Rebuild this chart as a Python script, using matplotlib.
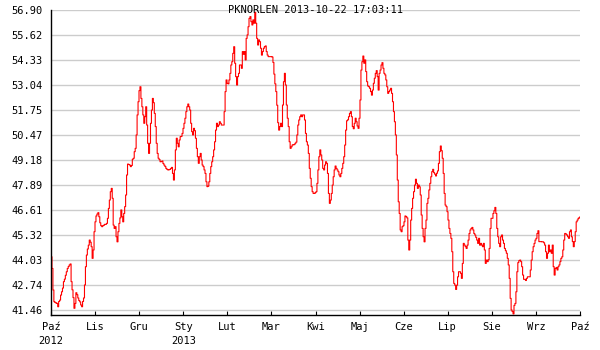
import numpy as np
import matplotlib
matplotlib.use("Agg")
import matplotlib.pyplot as plt

title = "PKNORLEN 2013-10-22 17:03:11"
y_ticks = [41.46, 42.74, 44.03, 45.32, 46.61, 47.89, 49.18, 50.47, 51.75, 53.04, 54.33, 55.62, 56.90]
month_labels = ["Paź\n2012", "Lis", "Gru", "Sty\n2013", "Lut", "Mar", "Kwi", "Maj",
                "Cze", "Lip", "Sie", "Wrz", "Paź"]

seg_oct_nov = [44.20, 43.60, 42.49, 41.89, 41.85, 41.82, 41.80, 41.63, 41.90, 41.97, 42.23, 42.40,
               42.59, 42.92, 43.05, 43.25, 43.43, 43.60, 43.70, 43.78, 43.83, 42.92, 42.50, 42.10,
               41.55, 41.80, 42.35, 42.25, 42.08, 41.95, 41.88, 41.72, 41.63, 41.90, 42.08, 42.75,
               43.69, 44.29, 44.60, 44.80, 45.06, 44.95, 44.72, 44.12, 44.55, 45.49, 46.00, 46.30,
               46.40, 46.47, 46.26, 45.95, 45.80, 45.75, 45.80, 45.83, 45.87, 45.87, 45.92, 46.18,
               46.69, 47.12, 47.55, 47.72, 47.21, 45.83, 45.66, 45.75, 45.23, 44.97, 45.49, 45.92,
               46.20, 46.61, 46.26, 46.00, 46.43, 46.78, 47.38, 48.41, 48.97, 48.95, 48.92, 48.84,
               48.90, 49.22]
seg_dec_jan = [49.27, 49.61, 49.78, 50.47, 51.50, 52.18, 52.75, 52.95, 52.35, 51.92, 51.50, 51.07,
               51.41, 51.92, 50.98, 50.04, 49.52, 50.04, 51.07, 51.75, 52.35, 52.13, 51.58, 50.90,
               50.04, 49.52, 49.27, 49.20, 49.09, 49.10, 49.13, 49.00, 48.92, 48.85, 48.75, 48.70,
               48.67, 48.68, 48.70, 48.75, 48.80, 48.49, 48.15, 48.67, 49.70, 50.30, 50.04, 49.86,
               50.21, 50.38, 50.40, 50.55, 50.81, 51.07, 51.33, 51.67, 51.92, 52.06, 51.92, 51.75,
               51.07, 50.64, 50.47, 50.81, 50.69, 50.30, 49.78, 49.35, 49.01, 49.35, 49.52, 49.18,
               48.92, 48.84, 48.67, 48.49, 48.06, 47.81, 47.84, 48.06, 48.49, 48.84, 49.09, 49.35,
               49.70, 50.12, 50.72, 51.07, 50.90, 50.98, 51.15, 51.07, 50.98, 50.98]
seg_feb_mar = [50.98, 51.67, 52.70, 53.30, 53.13, 53.10, 53.30, 53.64, 54.07, 54.24, 54.67, 55.01,
               54.16, 53.47, 53.04, 53.47, 53.64, 54.07, 54.07, 53.90, 54.76, 54.62, 54.76, 54.33,
               55.44, 55.62, 56.04, 56.47, 56.56, 56.30, 56.13, 56.39, 56.22, 56.78, 56.22, 55.44,
               55.10, 55.36, 55.27, 54.93, 54.58, 54.76, 54.93, 55.01, 55.05, 54.76, 54.58, 54.50,
               54.50, 54.50, 54.50, 54.48, 54.20, 53.60, 53.10, 52.70, 52.00, 51.10, 50.72, 50.90,
               51.07, 50.90, 52.01, 53.21, 53.64, 53.04, 52.01, 51.33, 50.90, 50.12, 49.78, 49.86,
               49.95, 49.97, 49.97, 50.04, 50.10, 50.47, 50.98, 51.24, 51.41, 51.50, 51.41, 51.50,
               51.50, 51.24, 50.55, 50.12, 49.95, 49.52, 48.75, 48.24, 47.81, 47.55]
seg_apr_may = [47.46, 47.46, 47.50, 47.55, 47.98, 48.67, 49.35, 49.70, 49.44, 49.18, 48.75, 48.67,
               48.92, 49.09, 49.01, 48.49, 47.46, 46.95, 47.12, 47.46, 47.89, 48.32, 48.67, 48.87,
               48.75, 48.67, 48.58, 48.41, 48.32, 48.49, 48.75, 49.01, 49.35, 49.95, 50.72, 51.20,
               51.25, 51.41, 51.58, 51.67, 51.41, 50.90, 50.79, 51.07, 51.33, 51.15, 50.93, 50.81,
               51.33, 52.27, 53.81, 54.24, 54.53, 54.16, 54.33, 53.73, 53.21, 52.99, 52.95, 52.87,
               52.70, 52.52, 52.78, 53.13, 53.39, 53.64, 53.78, 53.47, 52.78, 53.64, 53.81, 54.07,
               54.19, 53.90, 53.64, 53.56, 53.30, 52.95, 52.61, 52.70, 52.78, 52.87, 52.61, 52.18,
               51.67, 51.15, 50.47, 49.44, 48.15, 47.03]
seg_jun_jul = [46.43, 45.58, 45.49, 45.75, 45.80, 46.00, 46.30, 46.26, 46.20, 45.06, 44.55, 45.06,
               46.09, 46.69, 47.21, 47.55, 47.89, 48.19, 47.98, 47.72, 47.89, 47.80, 47.38, 46.35,
               45.66, 45.23, 44.97, 45.66, 46.09, 46.95, 47.21, 47.64, 47.98, 48.32, 48.58, 48.70,
               48.53, 48.45, 48.36, 48.50, 48.62, 49.01, 49.61, 49.90, 49.66, 49.27, 48.49, 47.46,
               46.86, 46.78, 46.52, 46.09, 45.66, 45.40, 45.15, 44.46, 43.43, 42.83, 42.74, 42.52,
               42.74, 43.17, 43.43, 43.43, 43.35, 43.09, 43.86, 44.89, 44.80, 44.72, 44.63, 44.80,
               45.06, 45.40, 45.58, 45.66, 45.71, 45.58, 45.40, 45.32, 45.20, 45.06, 44.89, 45.15,
               44.80, 44.89, 44.80, 44.72, 44.89, 44.55]
seg_aug_oct = [43.86, 44.03, 43.95, 44.05, 44.63, 45.66, 46.18, 46.18, 46.43, 46.57, 46.74, 46.43,
               45.66, 45.23, 44.89, 44.72, 45.23, 45.32, 45.06, 44.89, 44.63, 44.51, 44.38, 44.12,
               43.78, 43.09, 42.06, 41.46, 41.38, 41.26, 41.70, 41.80, 42.40, 43.43, 43.90, 44.00,
               44.03, 43.95, 43.69, 43.26, 43.04, 43.04, 42.98, 43.09, 43.17, 43.17, 43.17, 43.52,
               44.03, 44.46, 44.72, 44.89, 45.06, 45.15, 45.40, 45.54, 44.98, 44.98, 44.98, 44.97,
               44.97, 44.92, 44.80, 44.46, 44.12, 44.38, 44.80, 44.46, 44.55, 44.38, 44.80, 43.69,
               43.26, 43.60, 43.65, 43.52, 43.69, 43.78, 43.95, 44.12, 44.20, 44.55, 45.06, 45.40,
               45.37, 45.32, 45.23, 45.15, 45.49, 45.58, 45.23, 44.98, 44.72, 44.98, 45.49, 46.00,
               46.09, 46.18, 46.21, 46.26]

prices = (seg_oct_nov + seg_dec_jan + seg_feb_mar + seg_apr_may + seg_jun_jul + seg_aug_oct)

mono = "DejaVu Sans Mono"
fig = plt.figure(figsize=(6, 3.5), dpi=100)
ax = fig.add_axes([51 / 600, 1 - 315 / 350, (580 - 51) / 600, (315 - 10) / 350])

x = np.linspace(0, len(month_labels) - 1, len(prices))
ax.plot(x, prices, color="#ff0000", lw=0.8, drawstyle="steps-post")

y_bottom = y_ticks[0] - (y_ticks[1] - y_ticks[0]) * 0.2
ax.set_ylim(y_bottom, y_ticks[-1])
ax.set_xlim(0, len(month_labels) - 1)

ax.set_yticks(y_ticks)
ax.set_yticklabels([f"{v:.2f}" for v in y_ticks], family=mono, fontsize=7.5)
ax.set_xticks(range(len(month_labels)))
ax.set_xticklabels(month_labels, family=mono, fontsize=7.5, linespacing=1.5, va="top")
ax.tick_params(axis="y", length=0, pad=6)
ax.tick_params(axis="x", direction="in", length=3, width=0.8, pad=5)

ax.grid(axis="y", color="#cccccc", lw=1.0)
ax.set_axisbelow(True)
for s in ["top", "right"]:
    ax.spines[s].set_visible(False)
for s in ["left", "bottom"]:
    ax.spines[s].set_color("black")
    ax.spines[s].set_linewidth(1.0)

fig.text((51 + 580) / 2 / 600, 1 - 10 / 350, title, family=mono, fontsize=7.5,
         ha="center", va="center")

fig.savefig("out.png", dpi=100)
